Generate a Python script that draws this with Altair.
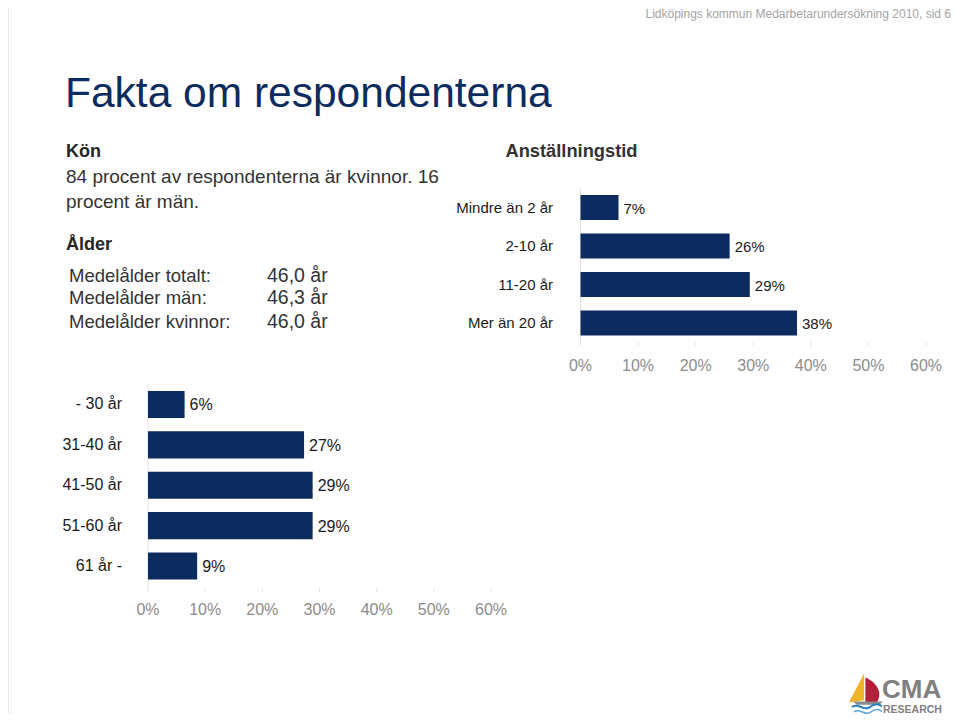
import altair as alt
import pandas as pd

# ---- data ----
age_cats = ["- 30 år", "31-40 år", "41-50 år", "51-60 år", "61 år -"]
age_vals = [6.4, 27.3, 28.8, 28.8, 8.6]
emp_cats = ["Mindre än 2 år", "2-10 år", "11-20 år", "Mer än 20 år"]
emp_vals = [6.6, 25.9, 29.4, 37.6]
tick_vals = [0, 10, 20, 30, 40, 50, 60]
tick_labels = ["0%", "10%", "20%", "30%", "40%", "50%", "60%"]

age_rows = ["Medelålder totalt:", "Medelålder män:", "Medelålder kvinnor:"]
age_means = ["46,0 år", "46,3 år", "46,0 år"]

NAVY = "#0c2b5e"
FONT = "Liberation Sans"
DARK = "#262626"

age_df = pd.DataFrame({"cat": age_cats, "val": age_vals})
emp_df = pd.DataFrame({"cat": emp_cats, "val": emp_vals})
tick_df = pd.DataFrame({"t": tick_vals, "lab": tick_labels})
EMPTY = alt.Data(values=[{}])


def bar_block(df, cats, xrange, yrange, pad, label_x, tick_y, axis_bottom, fs):
    xs = alt.Scale(domain=[0, 60], range=xrange, nice=False, zero=True)
    ys = alt.Scale(domain=cats, range=yrange, paddingInner=pad, paddingOuter=pad / 2)
    X = alt.X("val:Q", scale=xs, axis=None)
    Y = alt.Y("cat:N", scale=ys, axis=None, sort=cats)
    base = alt.Chart(df)
    vaxis = alt.Chart(EMPTY).mark_rule(color="#e4e4e4").encode(
        x=alt.XDatum(0, type="quantitative", scale=xs, axis=None),
        y=alt.value(yrange[0]), y2=alt.value(axis_bottom + 3))
    ticks = alt.Chart(tick_df).mark_rule(color="#e4e4e4").encode(
        x=alt.X("t:Q", scale=xs, axis=None),
        y=alt.value(axis_bottom), y2=alt.value(axis_bottom + 4))
    bars = base.mark_bar(color=NAVY).encode(x=X, y=Y)
    vals = base.transform_calculate(
        lab="format(datum.val, '.0f') + '%'"
    ).mark_text(align="left", baseline="middle", dx=5, dy=1, fontSize=fs,
                font=FONT, color="#1a1a1a").encode(x=X, y=Y, text="lab:N")
    cats_t = base.mark_text(align="right", baseline="middle", fontSize=fs,
                            font=FONT, color="#1a1a1a").encode(
        x=alt.value(label_x), y=Y, text="cat:N")
    tl = alt.Chart(tick_df).mark_text(align="center", baseline="middle", fontSize=16,
                                      font=FONT, color="#8c8c8c").encode(
        x=alt.X("t:Q", scale=xs, axis=None), y=alt.value(tick_y), text="lab:N")
    return [vaxis, ticks, bars, vals, cats_t, tl]


def txt(s, x, y, size, color=DARK, weight="normal", align="left", baseline="alphabetic"):
    return alt.Chart(EMPTY).mark_text(
        text=s, align=align, baseline=baseline, fontSize=size,
        fontWeight=weight, font=FONT, color=color).encode(
        x=alt.value(x), y=alt.value(y))


def shape(path, x, y, size, color, filled=True, sw=1.5):
    if filled:
        m = alt.Chart(EMPTY).mark_point(shape=path, size=size, filled=True,
                                        color=color, opacity=1, strokeWidth=0)
    else:
        m = alt.Chart(EMPTY).mark_point(shape=path, size=size, filled=False,
                                        color=color, opacity=1, strokeWidth=sw)
    return m.encode(x=alt.value(x), y=alt.value(y))


layers = []
# faint ruler at the left edge
layers.append(alt.Chart(EMPTY).mark_rule(color="#e6e6e6", strokeWidth=2).encode(
    x=alt.value(0), y=alt.value(0), y2=alt.value(706)))
layers.append(alt.Chart(EMPTY).mark_rule(color="#ececec", strokeWidth=1).encode(
    x=alt.value(3), y=alt.value(0), y2=alt.value(706)))

# header + title
layers.append(txt("Lidköpings kommun Medarbetarundersökning 2010,  sid 6", 943, 1, 12, "#a3a3a3",
                  align="right", baseline="top"))
layers.append(txt("Fakta om respondenterna", 57, 99, 42.5, NAVY))

# Kön
layers.append(txt("Kön", 58, 149, 18, DARK, "bold"))
layers.append(txt("84 procent av respondenterna är kvinnor. 16", 58, 175, 19, "#333333"))
layers.append(txt("procent är män.", 58, 200, 19, "#333333"))

# Ålder
layers.append(txt("Ålder", 58, 242, 18, DARK, "bold"))
for i, (r, v) in enumerate(zip(age_rows, age_means)):
    yb = [273.5, 296, 319.5][i]
    layers.append(txt(r, 61, yb, 18.5, "#333333"))
    layers.append(txt(v, 259, yb, 19.5, "#333333"))

# Anställningstid
layers.append(txt("Anställningstid", 563.5, 149, 18.3, "#333333", "bold", "center"))

# charts
layers += bar_block(emp_df, emp_cats, [572.5, 918], [180.25, 334.25], 0.35, 545, 358, 334, 15)
layers += bar_block(age_df, age_cats, [140, 483], [376.3, 578.2], 0.33, 114, 602, 580, 16)

# CMA Research logo
layers.append(shape("M0.35,-1 L-0.7,1 L0.35,0.85 Z", 851, 680, 841, "#f0b429"))
layers.append(shape("M-0.45,-1 C0.55,-0.6 0.95,0.35 0.45,1 L-0.45,1 Z", 863, 682, 625, "#b3203a"))
layers.append(shape("M-1,-0.1 L1,-0.1 L0.75,0.12 L-0.75,0.12 Z", 860, 695, 900, "#8a8a8a"))
layers.append(shape("M-1,0 C-0.6,-0.35 -0.2,0.35 0.2,0 C0.5,-0.25 0.8,-0.2 1,-0.05", 859, 699, 900, "#2a7fc1", False, 2))
layers.append(shape("M-1,0 C-0.6,-0.35 -0.2,0.35 0.2,0 C0.5,-0.25 0.8,-0.2 1,-0.05", 860, 704, 784, "#5aa6d8", False, 1.5))
layers.append(txt("CMA", 874, 690, 26, "#808080", "bold"))
layers.append(txt("RESEARCH", 875, 705, 10.5, "#808080", "bold"))

chart = alt.layer(*layers).resolve_scale(x="independent", y="independent").properties(
    width=944, height=706, padding=0,
    autosize=alt.AutoSizeParams(type="none"),
).configure_view(stroke=None)

chart.save("out.html", embed_options={"renderer": "svg", "actions": False})
